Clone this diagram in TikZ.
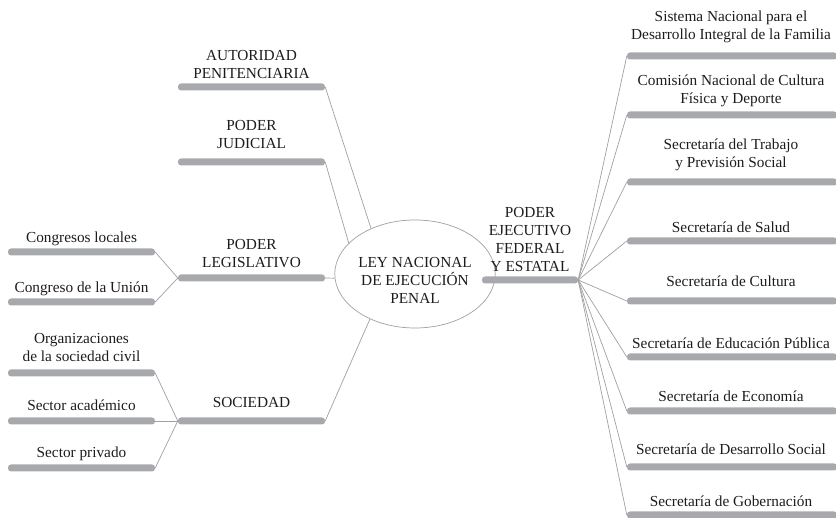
\documentclass[tikz,border=0pt]{standalone}
\usepackage{fontspec}
\setmainfont{Liberation Serif}
\usetikzlibrary{positioning, shapes}
\definecolor{bargray}{RGB}{167, 169, 172}
\definecolor{linkgray}{RGB}{160, 160, 160}
\definecolor{textgray}{RGB}{30, 27, 28}

\begin{document}
\begin{tikzpicture}[x=1pt, y=-1pt,
    bar/.style={rectangle, rounded corners=3pt, fill=bargray, minimum height=7pt, inner sep=0pt},
    mainbar/.style={bar, minimum width=147pt},
    secbar/.style={bar, minimum width=210pt},
    txt/.style={align=center, inner sep=0pt, text depth=3.3pt, text=textgray, font=\fontsize{15.3}{18}\selectfont},
    link/.style={draw=linkgray, line width=0.7pt},
    law/.style={ellipse, draw=linkgray, line width=0.7pt, minimum width=134pt, minimum height=108pt, inner sep=0pt, txt, text height=63pt}
]
\useasboundingbox (0,0) rectangle (836,518);

% Center
\node[law] (ley) at (415,274) {LEY NACIONAL\\DE EJECUCIÓN\\PENAL};

% Left branches
\node[mainbar] (autBar) at (251.5,87) {};
\node[mainbar] (judBar) at (251.5,162) {};
\node[mainbar] (legBar) at (251.5,278) {};
\node[mainbar] (socBar) at (251.5,421) {};

\node[txt, above=1.7pt of autBar] (aut) {AUTORIDAD\\PENITENCIARIA};
\node[txt, above=6.7pt of judBar] (jud) {PODER\\JUDICIAL};
\node[txt, above=3.7pt of legBar] (leg) {PODER\\LEGISLATIVO};
\node[txt, above=6.7pt of socBar] (soc) {SOCIEDAD};

\draw[link] (autBar.east) -- (ley.134);
\draw[link] (judBar.east) -- (ley.155);
\draw[link] (legBar.east) -- (ley.183);
\draw[link] (socBar.east) -- (ley.225);

% Legislative and society leaves
\node[mainbar] (locBar) at (81.5,252) {};
\node[mainbar] (uniBar) at (81.5,302) {};
\node[mainbar] (orgBar) at (81.5,373) {};
\node[mainbar] (acaBar) at (81.5,421) {};
\node[mainbar] (priBar) at (81.5,468) {};

\node[txt, above=2.7pt of locBar] (loc) {Congresos locales};
\node[txt, above=2.7pt of uniBar] (uni) {Congreso de la Unión};
\node[txt, above=4.7pt of orgBar] (org) {Organizaciones\\de la sociedad civil};
\node[txt, above=3.7pt of acaBar] (aca) {Sector académico};
\node[txt, above=3.7pt of priBar] (pri) {Sector privado};

\draw[link] (locBar.east) -- (legBar.west);
\draw[link] (uniBar.east) -- (legBar.west);
\draw[link] (orgBar.east) -- (socBar.west);
\draw[link] (acaBar.east) -- (socBar.west);
\draw[link] (priBar.east) -- (socBar.west);

% Executive branch
\node[bar, minimum width=96pt] (exeBar) at (530,280) {};
\node[txt, above=1.7pt of exeBar] (exe) {PODER\\EJECUTIVO\\FEDERAL\\Y ESTATAL};

\node[secbar] (difBar) at (732,56) {};
\node[secbar] (conBar) at (732,115) {};
\node[secbar] (stpsBar) at (732,182) {};
\node[secbar] (ssaBar) at (732,241) {};
\node[secbar] (culBar) at (732,301) {};
\node[secbar] (sepBar) at (732,357) {};
\node[secbar] (seBar) at (732,411) {};
\node[secbar] (sedBar) at (732,467) {};
\node[secbar] (segBar) at (732,515) {};

\node[txt, above=9.7pt of difBar, xshift=-1pt] (dif) {Sistema Nacional para el\\Desarrollo Integral de la Familia};
\node[txt, above=4.7pt of conBar, xshift=-1pt] (con) {Comisión Nacional de Cultura\\Física y Deporte};
\node[txt, above=7.7pt of stpsBar, xshift=-1pt] (stps) {Secretaría del Trabajo\\y Previsión Social};
\node[txt, above=1.7pt of ssaBar, xshift=-1pt] (ssa) {Secretaría de Salud};
\node[txt, above=7.7pt of culBar, xshift=-1pt] (cul) {Secretaría de Cultura};
\node[txt, above=1.7pt of sepBar, xshift=-1pt] (sep) {Secretaría de Educación Pública};
\node[txt, above=2.7pt of seBar, xshift=-1pt] (se) {Secretaría de Economía};
\node[txt, above=5.7pt of sedBar, xshift=-1pt] (sed) {Secretaría de Desarrollo Social};
\node[txt, above=1.7pt of segBar, xshift=-1pt] (seg) {Secretaría de Gobernación};

\draw[link] (exeBar.east) -- (difBar.west);
\draw[link] (exeBar.east) -- (conBar.west);
\draw[link] (exeBar.east) -- (stpsBar.west);
\draw[link] (exeBar.east) -- (ssaBar.west);
\draw[link] (exeBar.east) -- (culBar.west);
\draw[link] (exeBar.east) -- (sepBar.west);
\draw[link] (exeBar.east) -- (seBar.west);
\draw[link] (exeBar.east) -- (sedBar.west);
\draw[link] (exeBar.east) -- (segBar.west);

\end{tikzpicture}
\end{document}
